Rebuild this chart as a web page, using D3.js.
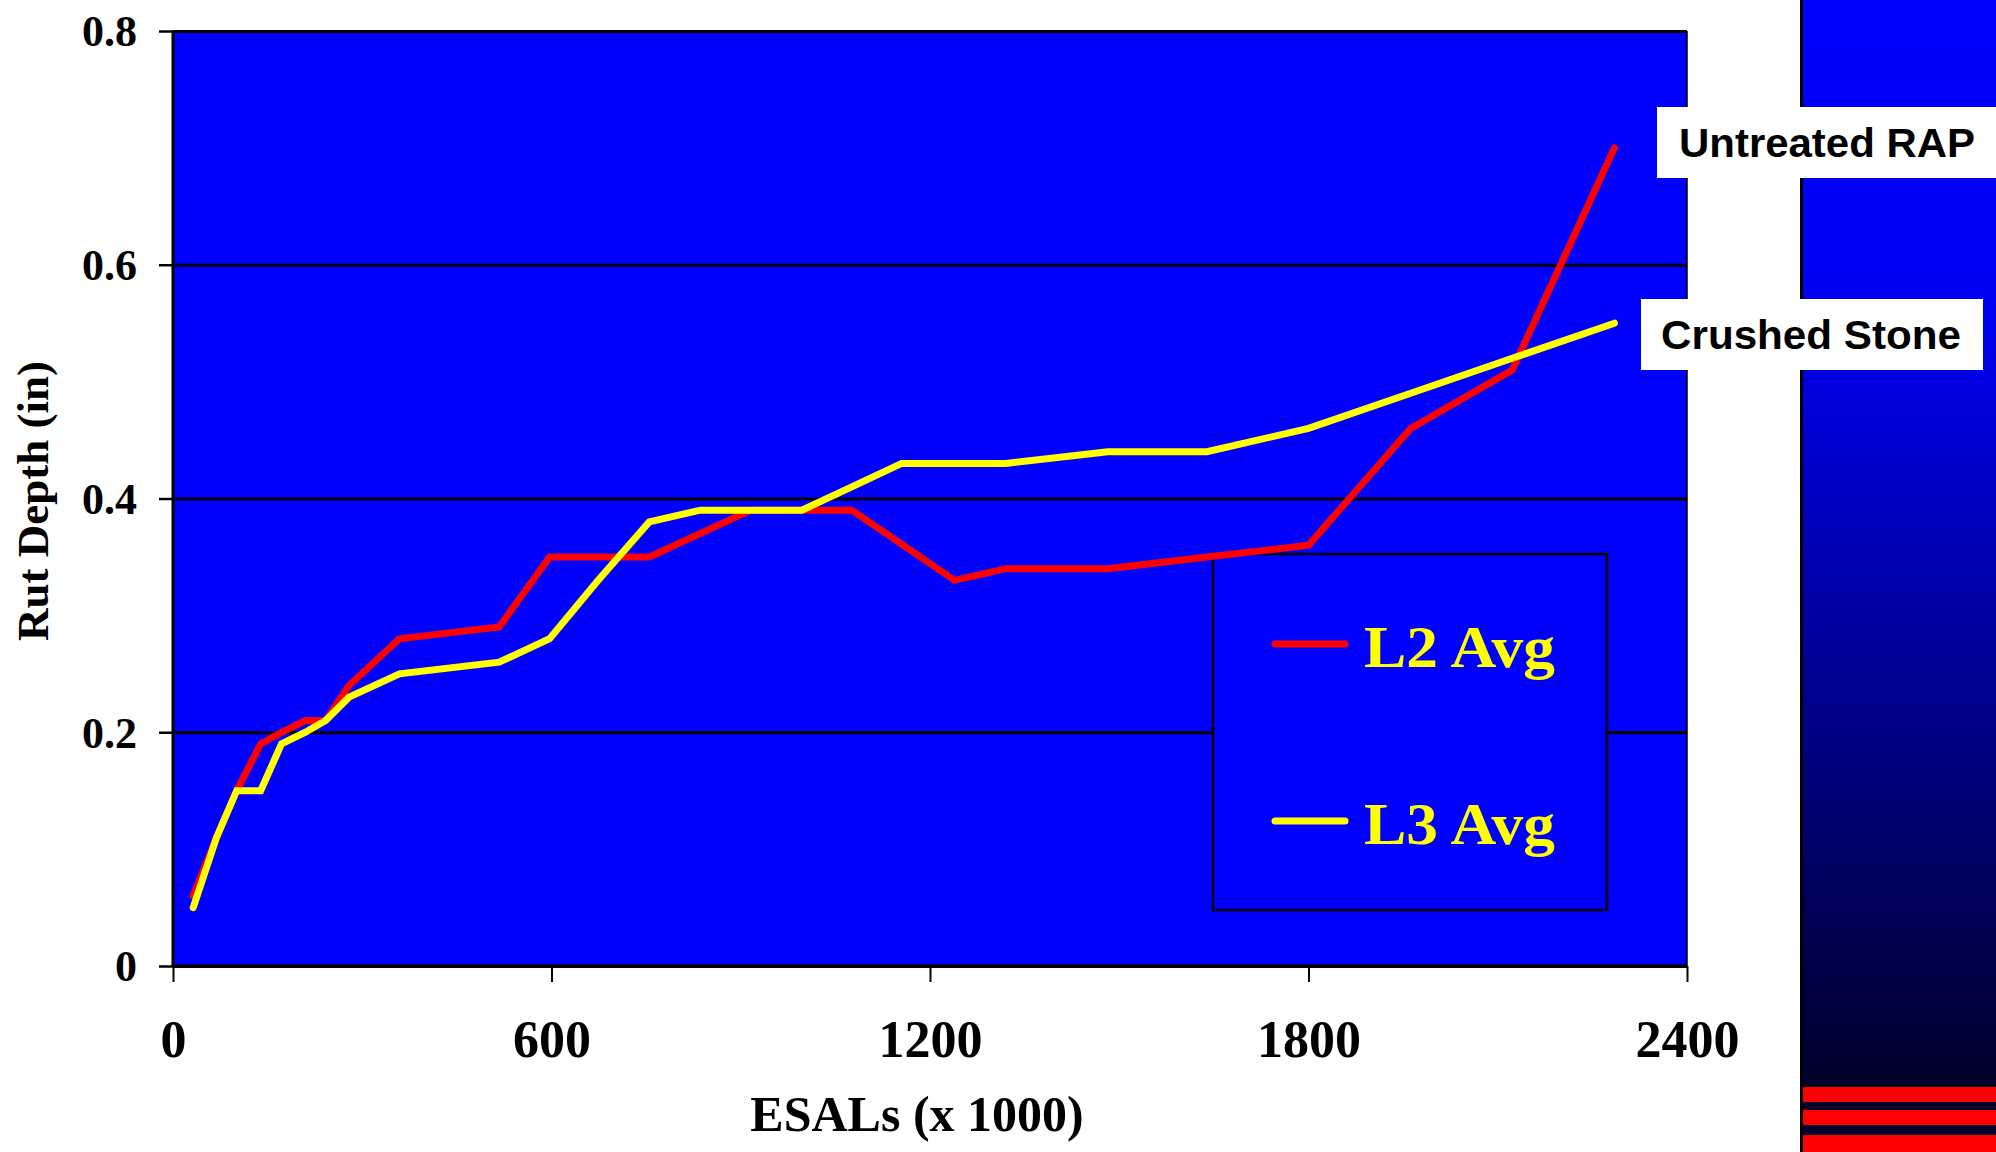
<!DOCTYPE html>
<html>
<head>
<meta charset="utf-8">
<script src="https://cdn.jsdelivr.net/npm/d3@7"></script>
<style>
  body { margin: 0; background: #ffffff; }
  svg { display: block; }
  .serif { font-family: "Palatino Linotype", "Book Antiqua", Palatino, "Liberation Serif", serif; font-weight: bold; }
  .sans { font-family: Arial, "Liberation Sans", sans-serif; font-weight: bold; }
</style>
</head>
<body>
<div id="chart"></div>
<script>
// ESALs (x 1000) and rut depth (in)
var l2Esals = [32, 69, 101, 139, 172, 210, 242, 279, 359, 517, 597, 755, 916, 1076, 1239, 1320, 1482, 1639, 1800, 1962, 2123, 2285];
var l2Depth = [0.06, 0.11, 0.15, 0.19, 0.20, 0.21, 0.21, 0.24, 0.28, 0.29, 0.35, 0.35, 0.39, 0.39, 0.33, 0.34, 0.34, 0.35, 0.36, 0.46, 0.51, 0.70];

var l3Esals = [32, 69, 101, 139, 172, 210, 242, 279, 359, 517, 597, 674, 755, 836, 997, 1076, 1155, 1320, 1482, 1639, 1800, 1962, 2123, 2285];
var l3Depth = [0.05, 0.11, 0.15, 0.15, 0.19, 0.20, 0.21, 0.23, 0.25, 0.26, 0.28, 0.33, 0.38, 0.39, 0.39, 0.41, 0.43, 0.43, 0.44, 0.44, 0.46, 0.49, 0.52, 0.55];

var xTicks = [0, 600, 1200, 1800, 2400];
var yTicks = [0, 0.2, 0.4, 0.6, 0.8];
var seriesNames = ["L2 Avg", "L3 Avg"];
var seriesColors = ["#ff0000", "#ffff00"];
var sideLabels = ["Untreated RAP", "Crushed Stone"];

var W = 1996, H = 1152;
var margin = { left: 173, top: 31, right: 309, bottom: 186 };
var w = W - margin.left - margin.right;
var h = H - margin.top - margin.bottom;

var svg = d3.select("#chart").append("svg")
    .attr("width", W)
    .attr("height", H);

// right hand decoration strip
var defs = svg.append("defs");
var grad = defs.append("linearGradient")
    .attr("id", "side")
    .attr("x1", 0).attr("y1", 0).attr("x2", 0).attr("y2", 1);
grad.append("stop").attr("offset", "0%").attr("stop-color", "#0000ff");
grad.append("stop").attr("offset", "28%").attr("stop-color", "#0000f4");
grad.append("stop").attr("offset", "100%").attr("stop-color", "#00002a");

svg.append("rect")
    .attr("x", 1800).attr("y", 0)
    .attr("width", 196).attr("height", 1087)
    .attr("fill", "url(#side)");
svg.append("rect")
    .attr("x", 1800).attr("y", 1087)
    .attr("width", 196).attr("height", 65)
    .attr("fill", "#00002a");
svg.append("line")
    .attr("x1", 1801.5).attr("x2", 1801.5)
    .attr("y1", 0).attr("y2", H)
    .attr("stroke", "#000").attr("stroke-width", 3);
[1087, 1110, 1135].forEach(function(y, i) {
    svg.append("rect")
        .attr("x", 1803).attr("y", y)
        .attr("width", 193).attr("height", i == 2 ? 17 : 15)
        .attr("fill", "#ff0000");
});

var g = svg.append("g")
    .attr("transform", "translate(" + margin.left + "," + margin.top + ")");

var x = d3.scaleLinear().domain([0, 2400]).range([0, w]);
var y = d3.scaleLinear().domain([0, 0.8]).range([h, 0]);

g.append("rect")
    .attr("width", w).attr("height", h)
    .attr("fill", "#0000ff");

// gridlines
g.append("g")
    .attr("class", "grid")
    .call(d3.axisLeft(y).tickValues(yTicks).tickSize(-w).tickFormat(""))
    .call(function(s) {
        s.select(".domain").remove();
        s.selectAll("line").attr("stroke", "#000").attr("stroke-width", 3);
    });

// right border of plot
g.append("line")
    .attr("x1", w).attr("x2", w).attr("y1", 0).attr("y2", h)
    .attr("stroke", "#000").attr("stroke-width", 1.5);

// y axis
g.append("g")
    .call(d3.axisLeft(y).tickValues(yTicks).tickSize(14).tickPadding(22)
        .tickFormat(function(d) { return d === 0 ? "0" : d3.format(".1f")(d); }))
    .call(function(s) {
        s.select(".domain").attr("stroke", "#000").attr("stroke-width", 3)
            .attr("d", "M0,0V" + h);
        s.selectAll("line").attr("stroke", "#000").attr("stroke-width", 2.5);
        s.selectAll("text")
            .attr("class", "serif")
            .attr("fill", "#000")
            .style("font-size", "44px")
            .attr("dy", "0.34em");
    });

// x axis
g.append("g")
    .attr("transform", "translate(0," + h + ")")
    .call(d3.axisBottom(x).tickValues(xTicks).tickSize(16).tickPadding(38)
        .tickFormat(d3.format("d")))
    .call(function(s) {
        s.select(".domain").attr("stroke", "#000").attr("stroke-width", 3)
            .attr("d", "M0,0H" + w);
        s.selectAll("line").attr("stroke", "#000").attr("stroke-width", 2);
        s.selectAll("text")
            .attr("class", "serif")
            .attr("fill", "#000")
            .style("font-size", "52px")
            .attr("dy", "0.71em");
    });

// axis titles
svg.append("text")
    .attr("class", "serif")
    .attr("x", 917).attr("y", 1131)
    .attr("text-anchor", "middle")
    .style("font-size", "50px")
    .text("ESALs (x 1000)");

svg.append("text")
    .attr("class", "serif")
    .attr("transform", "translate(48,501) rotate(-90)")
    .attr("text-anchor", "middle")
    .style("font-size", "45px")
    .text("Rut Depth (in)");

// legend box (drawn under the lines)
var legend = g.append("g")
    .attr("transform", "translate(" + (1213 - margin.left) + "," + (554 - margin.top) + ")");
legend.append("rect")
    .attr("width", 394).attr("height", 356)
    .attr("fill", "#0000ff")
    .attr("stroke", "#000").attr("stroke-width", 2.5);

var line = d3.line()
    .x(function(d) { return x(d[0]); })
    .y(function(d) { return y(d[1]); });

var series = [
    d3.zip(l2Esals, l2Depth),
    d3.zip(l3Esals, l3Depth)
];

series.forEach(function(pts, i) {
    g.append("path")
        .datum(pts)
        .attr("d", line)
        .attr("fill", "none")
        .attr("stroke", seriesColors[i])
        .attr("stroke-width", 7)
        .attr("stroke-linejoin", "miter")
        .attr("stroke-linecap", "round");
});

seriesNames.forEach(function(name, i) {
    var ly = 90 + i * 177;
    legend.append("line")
        .attr("x1", 62).attr("x2", 132)
        .attr("y1", ly).attr("y2", ly)
        .attr("stroke", seriesColors[i])
        .attr("stroke-width", 7)
        .attr("stroke-linecap", "round");
    legend.append("text")
        .attr("class", "serif")
        .attr("x", 151).attr("y", ly + 23)
        .attr("fill", "#ffff00")
        .style("font-size", "60px")
        .attr("textLength", 191)
        .attr("lengthAdjust", "spacingAndGlyphs")
        .text(name);
});

// end-of-line labels
var labelBoxes = [
    { x: 1657, y: 107, w: 339, h: 71, tx: 1679, ty: 157, len: 296 },
    { x: 1641, y: 299, w: 342, h: 71, tx: 1661, ty: 349, len: 300 }
];
sideLabels.forEach(function(txt, i) {
    var b = labelBoxes[i];
    svg.append("rect")
        .attr("x", b.x).attr("y", b.y)
        .attr("width", b.w).attr("height", b.h)
        .attr("fill", "#ffffff");
    svg.append("text")
        .attr("class", "sans")
        .attr("x", b.tx).attr("y", b.ty)
        .attr("fill", "#000")
        .style("font-size", "41px")
        .attr("textLength", b.len)
        .attr("lengthAdjust", "spacingAndGlyphs")
        .text(txt);
});
</script>
</body>
</html>
